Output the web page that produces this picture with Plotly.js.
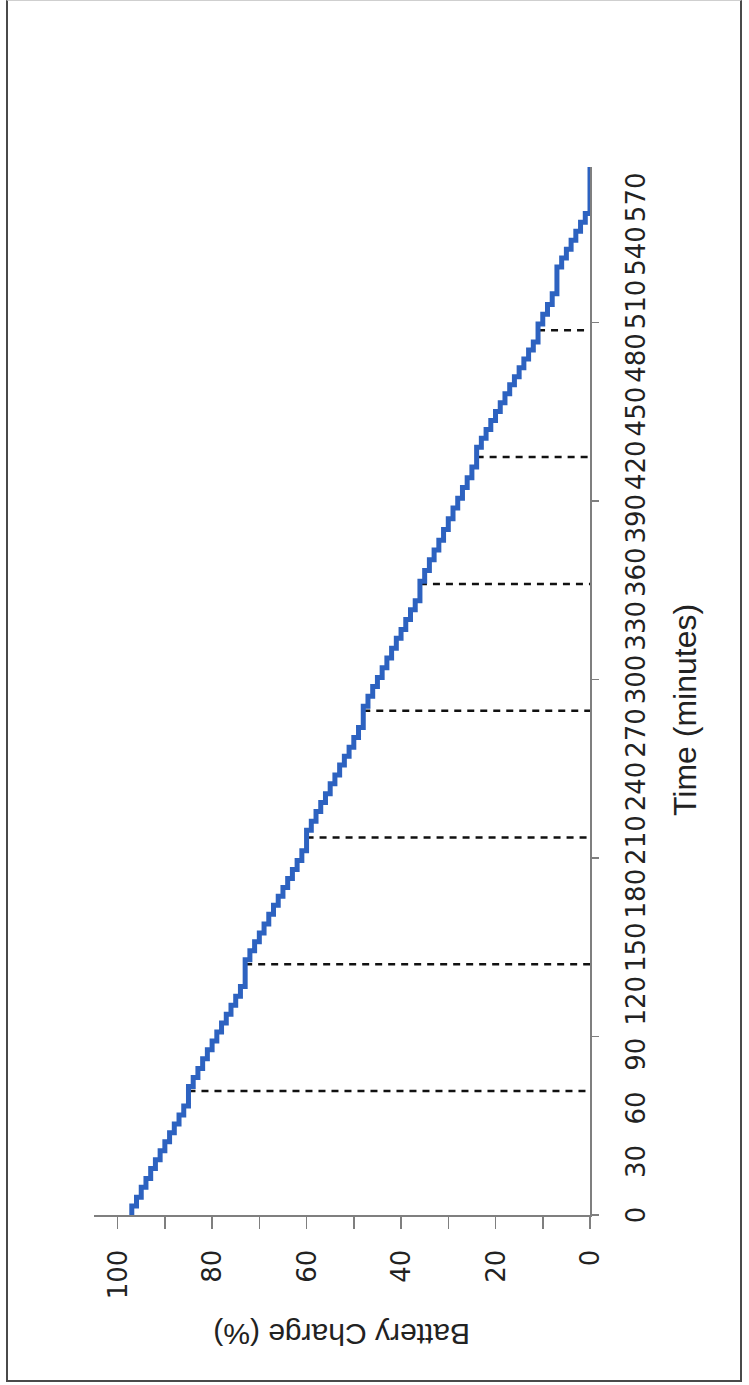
<!DOCTYPE html>
<html>
<head>
<meta charset="utf-8">
<script src="https://cdn.plot.ly/plotly-3.0.1.min.js"></script>
<style>
  html, body { margin: 0; padding: 0; background: #ffffff; overflow: hidden; }
  #wrap { position: absolute; left: 0; top: 0; width: 749px; height: 1385px; overflow: hidden; }
  #chart {
    position: absolute; left: 0; top: 0; width: 1385px; height: 749px;
    transform-origin: 0 0; transform: translate(0px, 1385px) rotate(-90deg);
  }
  #frame {
    position: absolute; left: 6px; top: 0px; width: 736px; height: 1382px;
    box-sizing: border-box; border: 2px solid #4a4a4a; border-top: 1px solid #cfcfcf;
    pointer-events: none;
  }
</style>
</head>
<body>
<div id="wrap">
  <div id="chart"></div>
  <div id="frame"></div>
</div>
<script>
// Battery discharge log: time (minutes) at which each charge level starts
const timeMin = [0, 5, 10, 15.5, 20.5, 26, 31, 36, 41, 46, 51, 56, 61,
  72, 77, 82, 87.5, 92.5, 97.5, 102.5, 107.5, 112.5, 117.5, 122.5, 128,
  143, 148, 153, 158, 163, 168.5, 173.5, 178.5, 183.5, 188.5, 193.5, 198.5, 204,
  215.5, 220.5, 226, 231, 236, 241.5, 246.5, 252, 257, 262, 267.5, 273,
  285, 290.5, 296, 301, 306.5, 312, 317.5, 323, 328, 333.5, 339, 344,
  355, 361, 367, 372.5, 378, 384, 390, 396, 401.5, 407.5, 413, 419,
  430, 435, 440, 445, 450, 455, 460, 465, 469.5, 474.5, 479.5, 484.5, 489,
  499, 504.5, 510, 516, 531, 536, 541, 546, 551, 556, 561, 587];
const chargePct = [97, 96, 95, 94, 93, 92, 91, 90, 89, 88, 87, 86, 85,
  84, 83, 82, 81, 80, 79, 78, 77, 76, 75, 74, 73,
  72, 71, 70, 69, 68, 67, 66, 65, 64, 63, 62, 61, 60,
  59, 58, 57, 56, 55, 54, 53, 52, 51, 50, 49, 48,
  47, 46, 45, 44, 43, 42, 41, 40, 39, 38, 37, 36,
  35, 34, 33, 32, 31, 30, 29, 28, 27, 26, 25, 24,
  23, 22, 21, 20, 19, 18, 17, 16, 15, 14, 13, 12, 11,
  10, 9, 8, 7, 6, 5, 4, 3, 2, 1, 0, 0];

// Dashed drop lines (time, charge at that time)
const markTime = [69.5, 140.5, 211.5, 282.5, 353.5, 424.5, 495.5];
const markCharge = [85, 73, 60, 48, 36, 24, 11];

// Axis ticks
const timeLabelVals = [0, 30, 60, 90, 120, 150, 180, 210, 240, 270, 300, 330, 360, 390, 420, 450, 480, 510, 540, 570];
const timeLabelText = ["0", "30", "60", "90", "120", "150", "180", "210", "240", "270", "300", "330", "360", "390", "420", "450", "480", "510", "540", "570"];
const timeTickMarks = [0, 100, 200, 300, 400, 500];
const chargeTickVals = [0, 10, 20, 30, 40, 50, 60, 70, 80, 90, 100];
const chargeTickText = ["0", "", "20", "", "40", "", "60", "", "80", "", "100"];

const axisGrey = '#7f7f7f';
const tickFont = { family: 'DejaVu Sans, sans-serif', size: 26, color: '#222222' };
const titleFont = { family: 'Liberation Sans, Arial, sans-serif', size: 30, color: '#222222' };
const timeRange = [0, 587];

const traces = [];
markTime.forEach(function (t, i) {
  traces.push({
    type: 'scatter', mode: 'lines', xaxis: 'x', yaxis: 'y',
    x: [t, t], y: [markCharge[i], 0],
    line: { color: '#111111', width: 2.5, dash: '7px,6px' },
    hoverinfo: 'skip', showlegend: false
  });
});
traces.push({
  type: 'scatter', mode: 'lines', xaxis: 'x2', yaxis: 'y',
  x: timeMin, y: chargePct,
  line: { color: '#2d62c0', width: 5, shape: 'hv' },
  showlegend: false
});

const layout = {
  width: 1385, height: 749, autosize: false,
  paper_bgcolor: '#ffffff', plot_bgcolor: '#ffffff',
  margin: { l: 170, r: 167, t: 94, b: 159, pad: 0 },
  showlegend: false,
  xaxis: {
    range: timeRange, showgrid: false, zeroline: false,
    showline: true, linecolor: axisGrey, linewidth: 1.5,
    tickmode: 'array', tickvals: timeLabelVals, ticktext: timeLabelText,
    ticks: '', tickangle: 0, tickfont: tickFont, ticklabelstandoff: 22
  },
  xaxis2: {
    range: timeRange, overlaying: 'x', anchor: 'y', side: 'bottom',
    showgrid: false, zeroline: false, showline: false,
    tickmode: 'array', tickvals: timeTickMarks, showticklabels: false,
    ticks: 'outside', ticklen: 8, tickwidth: 1.5, tickcolor: axisGrey
  },
  yaxis: {
    range: [0, 105], showgrid: false, zeroline: false,
    showline: true, linecolor: axisGrey, linewidth: 1.5,
    tickmode: 'array', tickvals: chargeTickVals, ticktext: chargeTickText,
    ticks: 'outside', ticklen: 12, tickwidth: 1.5, tickcolor: axisGrey,
    tickfont: tickFont, ticklabelstandoff: 16
  },
  annotations: [
    { text: 'Time (minutes)', xref: 'paper', yref: 'paper', x: 0.4819, y: -0.1915,
      xanchor: 'center', yanchor: 'middle', showarrow: false,
      font: { family: titleFont.family, size: 32, color: titleFont.color } },
    { text: 'Battery Charge (%)', xref: 'paper', yref: 'paper', x: -0.1145, y: 0.5,
      xanchor: 'center', yanchor: 'middle', showarrow: false, textangle: -90,
      font: titleFont }
  ]
};

Plotly.newPlot('chart', traces, layout, { staticPlot: true, displayModeBar: false });
</script>
</body>
</html>
